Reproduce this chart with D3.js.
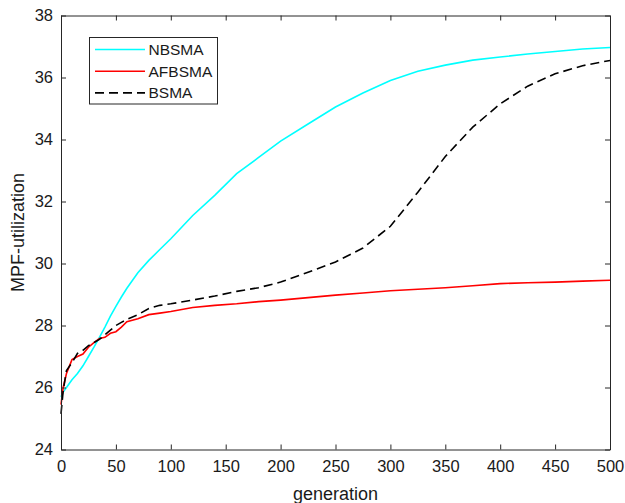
<!DOCTYPE html>
<html>
<head>
<meta charset="utf-8">
<script src="https://cdn.jsdelivr.net/npm/d3@7"></script>
<style>
  body { margin: 0; background: #fff; }
  text { font-family: "Liberation Sans", Arial, sans-serif; fill: #1a1a1a; }
</style>
</head>
<body>
<div id="vizcontainer"></div>
<script>
const gens = [0, 2, 5, 10, 15, 20, 25, 30, 35, 40, 45, 50, 55, 60, 70, 80, 90, 100, 120, 140, 160, 180, 200, 225, 250, 275, 300, 325, 350, 375, 400, 425, 450, 475, 500];
const nbsma = [25.7, 25.85, 26.0, 26.25, 26.45, 26.7, 27.0, 27.3, 27.62, 27.95, 28.3, 28.62, 28.92, 29.2, 29.7, 30.1, 30.45, 30.8, 31.55, 32.2, 32.9, 33.42, 33.95, 34.5, 35.05, 35.5, 35.9, 36.2, 36.4, 36.56, 36.66, 36.76, 36.84, 36.92, 36.97];
const afbsma = [25.45, 26.0, 26.45, 26.9, 27.0, 27.08, 27.3, 27.45, 27.58, 27.62, 27.75, 27.8, 27.95, 28.12, 28.22, 28.35, 28.4, 28.45, 28.58, 28.65, 28.7, 28.77, 28.82, 28.9, 28.98, 29.05, 29.12, 29.17, 29.22, 29.28, 29.35, 29.38, 29.4, 29.43, 29.46];
const bsma = [25.15, 25.9, 26.55, 26.8, 27.1, 27.2, 27.35, 27.45, 27.55, 27.7, 27.85, 28.0, 28.1, 28.2, 28.35, 28.55, 28.65, 28.7, 28.82, 28.95, 29.1, 29.22, 29.4, 29.72, 30.05, 30.5, 31.2, 32.3, 33.45, 34.4, 35.15, 35.72, 36.12, 36.38, 36.55];
const xTicks = [0, 50, 100, 150, 200, 250, 300, 350, 400, 450, 500];
const yTicks = [24, 26, 28, 30, 32, 34, 36, 38];

const series = [
  { name: 'NBSMA', values: nbsma, color: '#00ffff', dash: null },
  { name: 'AFBSMA', values: afbsma, color: '#ff0000', dash: null },
  { name: 'BSMA', values: bsma, color: '#000000', dash: '9,5' }
];

const width = 625, height = 503,
  mLeft = 61, mRight = 610, mTop = 15.5, mBottom = 449.5,
  axisColor = '#262626';

const svg = d3.select('#vizcontainer')
  .append('svg')
  .attr('width', width)
  .attr('height', height);

const x = d3.scaleLinear().domain([0, 500]).range([mLeft, mRight]);
const y = d3.scaleLinear().domain([24, 38]).range([mBottom, mTop]);

// lines
const line = d3.line().x((d, i) => x(gens[i])).y(d => y(d));
svg.append('g')
  .selectAll('path')
  .data(series)
  .join('path')
  .attr('d', d => line(d.values))
  .attr('fill', 'none')
  .attr('stroke', d => d.color)
  .attr('stroke-width', 1.6)
  .attr('stroke-dasharray', d => d.dash);

// axes with inward ticks
const tick = 5;
const ax = svg.append('g');
ax.append('g').attr('transform', `translate(0,${mBottom})`)
  .call(d3.axisBottom(x).tickValues(xTicks).tickSizeInner(-tick).tickSizeOuter(0).tickPadding(11));
ax.append('g').attr('transform', `translate(0,${mTop})`)
  .call(d3.axisTop(x).tickValues(xTicks).tickSizeInner(-tick).tickSizeOuter(0).tickFormat(''));
ax.append('g').attr('transform', `translate(${mLeft},0)`)
  .call(d3.axisLeft(y).tickValues(yTicks).tickSizeInner(-tick).tickSizeOuter(0).tickPadding(8));
ax.append('g').attr('transform', `translate(${mRight},0)`)
  .call(d3.axisRight(y).tickValues(yTicks).tickSizeInner(-tick).tickSizeOuter(0).tickFormat(''));
ax.selectAll('.domain').attr('stroke', axisColor);
ax.selectAll('.tick line').attr('stroke', axisColor);
ax.selectAll('.tick text').style('font-size', '16.5px').attr('fill', '#1a1a1a');

// axis titles
svg.append('text')
  .attr('x', (mLeft + mRight) / 2)
  .attr('y', 499.5)
  .attr('text-anchor', 'middle')
  .style('font-size', '18px')
  .text('generation');
svg.append('text')
  .attr('transform', `translate(24,${(mTop + mBottom) / 2}) rotate(-90)`)
  .attr('text-anchor', 'middle')
  .style('font-size', '18px')
  .text('MPF-utilization');

// legend
const lg = svg.append('g').attr('transform', 'translate(89.5,37.5)');
lg.append('rect')
  .attr('width', 128)
  .attr('height', 66.5)
  .attr('fill', '#fff')
  .attr('stroke', axisColor)
  .attr('stroke-width', 1);
const rows = lg.selectAll('g.row')
  .data(series)
  .join('g')
  .attr('class', 'row')
  .attr('transform', (d, i) => `translate(0,${12 + i * 21.7})`);
rows.append('line')
  .attr('x1', 5.5).attr('x2', 55.5)
  .attr('stroke', d => d.color)
  .attr('stroke-width', 1.6)
  .attr('stroke-dasharray', d => d.dash);
rows.append('text')
  .attr('x', 59)
  .attr('dy', '0.36em')
  .style('font-size', '15.5px')
  .text(d => d.name);
</script>
</body>
</html>
